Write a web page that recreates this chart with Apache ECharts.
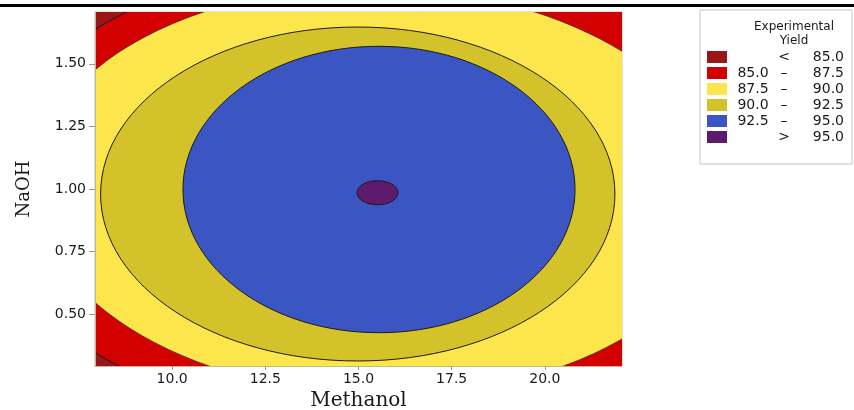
<!DOCTYPE html>
<html>
<head>
<meta charset="utf-8">
<script src="https://cdn.jsdelivr.net/npm/echarts@6/dist/echarts.min.js"></script>
<style>
  html, body { margin: 0; padding: 0; background: #fff; }
  #yield-chart { width: 854px; height: 410px; }
</style>
</head>
<body>
<div id="yield-chart"></div>
<script>
// axis ranges and ticks
const methanolRange = [7.93, 22.07];
const naohRange = [0.293, 1.707];
const methanolTicks = [10.0, 12.5, 15.0, 17.5, 20.0];
const naohTicks = [0.50, 0.75, 1.00, 1.25, 1.50];

// legend bands, low to high
const levelNames = ['< 85.0', '85.0 – 87.5', '87.5 – 90.0', '90.0 – 92.5', '92.5 – 95.0', '> 95.0'];

// contour boundaries (yield level): centre, half widths and tilt (deg, clockwise) estimated from the plot
const boundaryLevel = [85.0, 87.5, 90.0, 92.5, 95.0];
const centerMethanol = [15.52, 15.52, 14.98, 15.55, 15.51];
const centerNaOH = [0.992, 0.992, 0.980, 0.998, 0.985];
const halfMethanol = [10.52, 9.235, 6.90, 5.26, 0.55];
const halfNaOH = [0.932, 0.815, 0.667, 0.572, 0.048];
const boundaryTilt = [0, 1.5, 0, 0, 0];

const bandColors = ['#9a1515', '#d20000', '#fde64c', '#d4c22b', '#3b56c2', '#5e1a6c'];
const boundaryLineWidth = [1, 0.6, 1, 1, 1];

const chartDom = document.getElementById('yield-chart');
const myChart = echarts.init(chartDom, null, {renderer: 'canvas'});

const labelFont = 'DejaVu Sans';
const nameFont = 'DejaVu Serif';

const series = [
  {
    name: levelNames[0],
    type: 'custom',
    clip: true,
    itemStyle: {color: bandColors[0]},
    encode: {x: [0, 2], y: [1, 3]},
    data: [[methanolRange[0], naohRange[0], methanolRange[1], naohRange[1]]],
    renderItem: (params, api) => {
      const p0 = api.coord([api.value(0), api.value(1)]);
      const p1 = api.coord([api.value(2), api.value(3)]);
      return {
        type: 'rect',
        shape: {x: p0[0], y: p1[1], width: p1[0] - p0[0], height: p0[1] - p1[1]},
        style: {fill: api.visual('color')}
      };
    }
  }
];

boundaryLevel.forEach((lvl, i) => {
  series.push({
    name: levelNames[i + 1],
    type: 'custom',
    clip: true,
    itemStyle: {color: bandColors[i + 1]},
    encode: {x: 0, y: 1},
    data: [[centerMethanol[i], centerNaOH[i], halfMethanol[i], halfNaOH[i], boundaryTilt[i], lvl]],
    renderItem: (params, api) => {
      const c = api.coord([api.value(0), api.value(1)]);
      const s = api.size([api.value(2), api.value(3)]);
      return {
        type: 'ellipse',
        shape: {cx: c[0], cy: c[1], rx: s[0], ry: s[1]},
        rotation: -api.value(4) * Math.PI / 180,
        originX: c[0],
        originY: c[1],
        style: {fill: api.visual('color'), stroke: '#1b1b1b', lineWidth: boundaryLineWidth[i]}
      };
    }
  });
});

const option = {
  animation: false,
  backgroundColor: '#fff',
  title: {
    text: 'Experimental\nYield',
    left: 789,
    top: 15,
    textAlign: 'center',
    textStyle: {fontFamily: labelFont, fontSize: 12, fontWeight: 'normal', color: '#1a1a1a', lineHeight: 14}
  },
  legend: {
    orient: 'vertical',
    left: 700,
    top: 10,
    padding: [40, 8, 20, 7],
    borderColor: '#c4c4c4',
    borderWidth: 1,
    itemWidth: 20,
    itemHeight: 12,
    itemGap: 2,
    icon: 'rect',
    selectedMode: false,
    data: levelNames,
    formatter: name => {
      const parts = name.split(' – ');
      if (parts.length === 2) return `{a|${parts[0]}}{b|–}{c|${parts[1]}}`;
      const [sym, val] = name.split(' ');
      return `{a| }{b|${sym}}{c|${val}}`;
    },
    textStyle: {
      fontFamily: labelFont, fontSize: 14, color: '#1a1a1a', lineHeight: 12,
      rich: {
        a: {width: 42, align: 'right', fontFamily: labelFont, fontSize: 14, lineHeight: 12},
        b: {width: 20, align: 'center', fontFamily: labelFont, fontSize: 14, lineHeight: 12},
        c: {width: 50, align: 'right', fontFamily: labelFont, fontSize: 14, lineHeight: 12}
      }
    }
  },
  graphic: [
    {type: 'rect', left: 0, top: 4, shape: {width: 854, height: 3}, style: {fill: '#000'}}
  ],
  grid: {
    left: 95,
    right: 232,
    top: 12,
    bottom: 44,
    outerBoundsMode: 'none',
    show: true,
    borderColor: '#c9c1a3',
    borderWidth: 1
  },
  xAxis: {
    type: 'value',
    min: methanolRange[0],
    max: methanolRange[1],
    z: 5,
    name: 'Methanol',
    nameLocation: 'middle',
    nameGap: 24,
    nameTextStyle: {fontFamily: nameFont, fontSize: 20, color: '#1a1a1a'},
    splitLine: {show: false},
    axisLine: {lineStyle: {color: '#c2b795'}},
    axisTick: {customValues: methanolTicks, length: 4, lineStyle: {color: '#9a9a9a'}},
    axisLabel: {
      customValues: methanolTicks,
      margin: 6,
      formatter: v => v.toFixed(1),
      fontFamily: labelFont, fontSize: 14, color: '#1a1a1a'
    }
  },
  yAxis: {
    type: 'value',
    min: naohRange[0],
    max: naohRange[1],
    z: 5,
    name: 'NaOH',
    nameLocation: 'middle',
    nameGap: 62,
    nameTextStyle: {fontFamily: nameFont, fontSize: 18, color: '#1a1a1a'},
    splitLine: {show: false},
    axisLine: {show: true, lineStyle: {color: '#c2b795'}},
    axisTick: {show: true, customValues: naohTicks, length: 6, lineStyle: {color: '#9a9a9a'}},
    axisLabel: {
      customValues: naohTicks,
      margin: 9,
      formatter: v => v.toFixed(2),
      fontFamily: labelFont, fontSize: 14, color: '#1a1a1a'
    }
  },
  series: series
};

option && myChart.setOption(option);
</script>
</body>
</html>
